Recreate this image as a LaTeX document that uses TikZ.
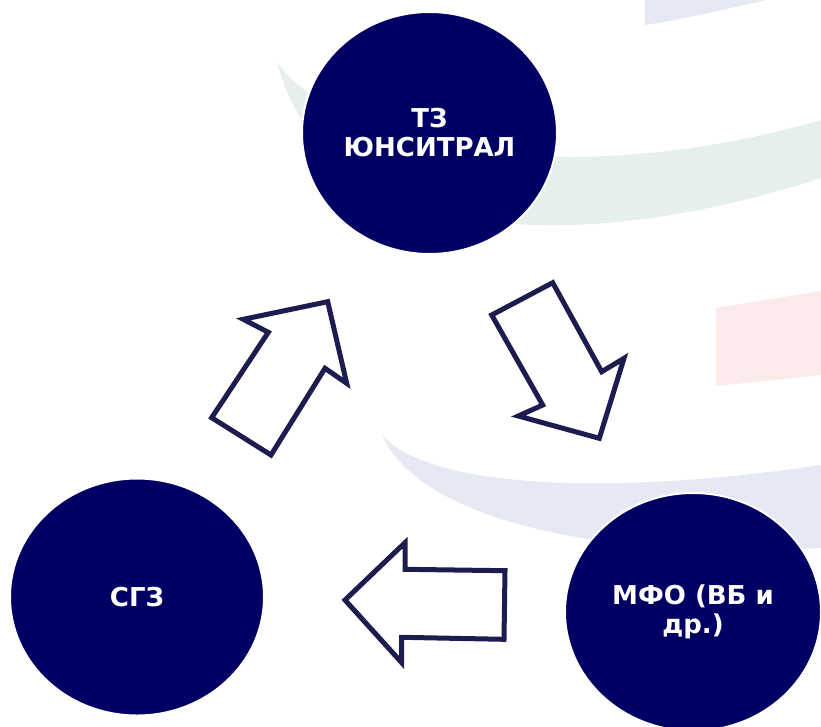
\documentclass[tikz,border=0pt]{standalone}
\usepackage{fontspec}
\setmainfont{DejaVu Sans}
\usetikzlibrary{shapes.geometric}
\definecolor{navy}{RGB}{0,0,100}
\definecolor{arrowline}{RGB}{28,28,78}
\definecolor{bandblue}{RGB}{230,233,243}
\definecolor{bandgreen}{RGB}{230,240,234}
\definecolor{bandred}{RGB}{251,234,234}
\tikzset{
  disc/.style={ellipse, fill=navy, draw=white, line width=2pt, text=white,
    font=\bfseries\fontsize{26}{29}\selectfont, align=center, inner sep=0pt},
  blockarrow/.style={draw=arrowline, line width=5pt, fill=white, line join=miter}
}

\begin{document}
\begin{tikzpicture}[x=1pt,y=-1pt]
\useasboundingbox (0,0) rectangle (821,726);
% faint bands in the back
\fill[bandblue] (645,0) -- (645,25) .. controls (690,18) and (730,8) .. (767,0) -- cycle;
\fill[bandgreen] (277,62) .. controls (335,145) and (560,195) .. (821,120) -- (821,178)
  .. controls (600,250) and (330,260) .. (277,62) -- cycle;
\fill[bandred] (716,308) -- (821,291) -- (821,375) -- (716,386) -- cycle;
\fill[bandblue] (382,435) .. controls (430,490) and (620,495) .. (821,465) -- (821,548)
  .. controls (600,560) and (420,520) .. (382,435) -- cycle;

\node[disc, minimum width=255pt, minimum height=242pt] (tz) at (429.5,133) {ТЗ\\ЮНСИТРАЛ};
\node[disc, minimum width=254pt, minimum height=237pt] (sgz) at (137,597) {СГЗ};
\node[disc, minimum width=256pt, minimum height=238pt] (mfo) at (693,612) {МФО (ВБ и\\др.)};

% arrow up
\coordinate (u1) at (211.7,417.7);
\coordinate (u2) at (268.3,332.3);
\coordinate (u3) at (243.3,319.3);
\coordinate (u4) at (327.7,301.7);
\coordinate (u5) at (346.7,383.3);
\coordinate (u6) at (325,368.3);
\coordinate (u7) at (271,455);
\draw[blockarrow] (u1) -- (u2) -- (u3) -- (u4) -- (u5) -- (u6) -- (u7) -- cycle;

% arrow down
\coordinate (d1) at (491.7,315);
\coordinate (d2) at (552.7,282.7);
\coordinate (d3) at (601.7,371.7);
\coordinate (d4) at (624,358.3);
\coordinate (d5) at (599.3,438.3);
\coordinate (d6) at (518.3,416);
\coordinate (d7) at (542.7,405);
\draw[blockarrow] (d1) -- (d2) -- (d3) -- (d4) -- (d5) -- (d6) -- (d7) -- cycle;

% arrow left
\coordinate (l1) at (345,600);
\coordinate (l2) at (405,542.7);
\coordinate (l3) at (405,569.3);
\coordinate (l4) at (505,570.7);
\coordinate (l5) at (504,639.3);
\coordinate (l6) at (401.7,637.3);
\coordinate (l7) at (401.7,662.7);
\draw[blockarrow] (l1) -- (l2) -- (l3) -- (l4) -- (l5) -- (l6) -- (l7) -- cycle;

\end{tikzpicture}
\end{document}
